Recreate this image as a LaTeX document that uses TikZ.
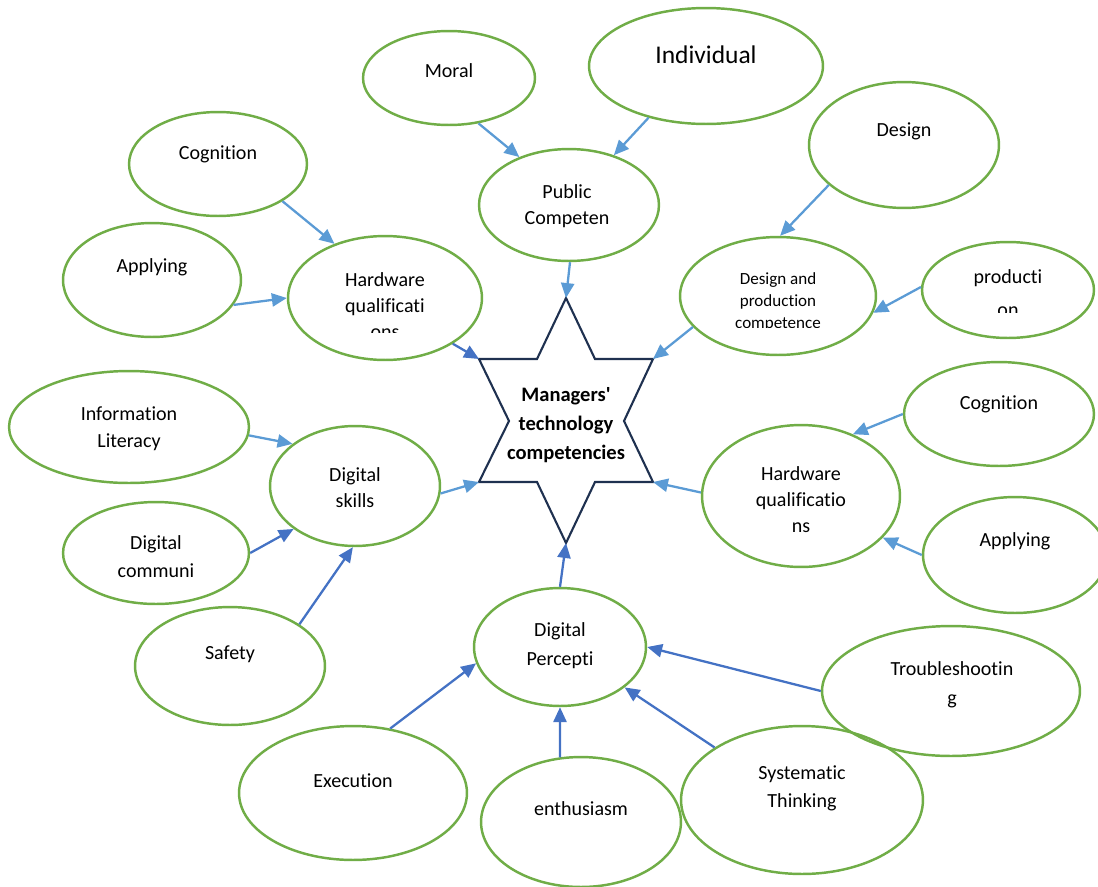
\documentclass[tikz,border=0pt]{standalone}
\usepackage{fontspec}
\setmainfont[Ligatures={NoCommon}]{Carlito}
\usetikzlibrary{shapes.geometric,arrows.meta}
\definecolor{leaf}{HTML}{70AD47}
\definecolor{skyblue}{HTML}{5B9BD5}
\definecolor{deepblue}{HTML}{4472C4}
\definecolor{navy}{HTML}{1F3150}
\tikzset{
	bub/.style={ellipse, draw=leaf, line width=1.4pt, inner sep=0pt},
	txt/.style={align=center, inner sep=0pt, font=\fontsize{11.4}{15.3}\selectfont},
	lite/.style={draw=skyblue, line width=1.3pt, -{Triangle[length=8.5pt,width=7.5pt]}},
	dark/.style={draw=deepblue, line width=1.3pt, -{Triangle[length=8.5pt,width=7.5pt]}},
}
\def\bubble(#1)(#2,#3)(#4:#5){\node[bub, minimum width={#4*0.04cm}, minimum height={#5*0.04cm}] (#1) at (#2,#3) {};}

\begin{document}
\begin{tikzpicture}[x=0.02cm, y=-0.02cm]
			%%%%% START %%%%%
			\clip (0,0) rectangle (1098,886);
			
			% star
			\coordinate (top) at (566,298);
			\coordinate (a1) at (595,359);
			\coordinate (rt) at (653,359);
			\coordinate (a2) at (624,421);
			\coordinate (rb) at (653,482);
			\coordinate (a3) at (595,482);
			\coordinate (bot) at (566,543);
			\coordinate (a4) at (537,482);
			\coordinate (lb) at (479,482);
			\coordinate (a5) at (509,421);
			\coordinate (lt) at (479,359);
			\coordinate (a6) at (537,359);
			\draw[navy, line width=1.2pt, line join=miter] (top) -- (a1) -- (rt) -- (a2) -- (rb) -- (a3) -- (bot) -- (a4) -- (lb) -- (a5) -- (lt) -- (a6) -- cycle;
			\node[txt, font={\fontsize{11.7}{16.6}\selectfont\bfseries}] (hub) at (566,425) {Managers\textquotesingle\\technology\\competencies};
			
			% bubbles
			\bubble(moral)(449,78)(86:47)
			\bubble(indiv)(706,66)(117:58)
			\bubble(design)(904,145)(95:63)
			\bubble(cogl)(218,164)(89:52)
			\bubble(public)(569,205)(90:56)
			\bubble(applyl)(152,280)(89:57)
			\bubble(hwl)(385,298)(97:62)
			\bubble(dp)(778,296)(98:59)
			\bubble(prod)(1008,290)(86:48)
			\bubble(info)(129,427)(120:56)
			\bubble(dskills)(355,486)(85:60)
			\bubble(cogr)(999,414)(95:52)
			\bubble(hwr)(801,496)(99:71)
			\bubble(applyr)(1015,555)(92:58)
			\bubble(dcomm)(156,553)(93:51)
			\bubble(safety)(230,666)(95:59)
			\bubble(dperc)(560,647)(86:59)
			\bubble(trouble)(951,691)(129:65)
			\bubble(exec)(353,793)(114:67)
			\bubble(enth)(581,822)(100:65)
			\bubble(sys)(802,800)(121:74)
			
			% texts
			\node[txt] (moral-t) at (449,71) {Moral};
			\node[txt, font=\fontsize{14.5}{17}\selectfont] (indiv-t) at (706,55) {Individual};
			\node[txt] (design-t) at (904,131) {Design};
			\node[txt] (cogl-t) at (218,154) {Cognition};
			\node[txt, font=\fontsize{11.4}{14.5}\selectfont] (public-t) at (567,206) {Public\\Competen};
			\node[txt] (applyl-t) at (152,267) {Applying};
			\begin{scope}
				\clip (280,236) rectangle (490,332);
				\node[txt, font=\fontsize{11.4}{14.8}\selectfont] (hwl-t) at (385,306) {Hardware\\qualificati\\ons};
			\end{scope}
			\begin{scope}
				\clip (680,240) rectangle (880,327);
				\node[txt, font=\fontsize{9.7}{12.5}\selectfont] (dp-t) at (778,302) {Design and\\production\\competence};
			\end{scope}
			\begin{scope}
				\clip (920,245) rectangle (1098,312);
				\node[txt, font=\fontsize{11.4}{18.5}\selectfont] (prod-t) at (1008,293) {producti\\on};
			\end{scope}
			\node[txt] (info-t) at (129,429) {Information\\Literacy};
			\node[txt, font=\fontsize{11.4}{14.8}\selectfont] (dskills-t) at (355,488) {Digital\\skills};
			\node[txt] (cogr-t) at (999,404) {Cognition};
			\node[txt, font=\fontsize{11.4}{14.8}\selectfont] (hwr-t) at (801,500) {Hardware\\qualificatio\\ns};
			\node[txt] (applyr-t) at (1015,541) {Applying};
			\node[txt, font=\fontsize{11.4}{16}\selectfont] (dcomm-t) at (156,557) {Digital\\communi};
			\node[txt] (safety-t) at (230,654) {Safety};
			\node[txt, font=\fontsize{11.4}{16.4}\selectfont] (dperc-t) at (560,646) {Digital\\Percepti};
			\node[txt, font=\fontsize{11.4}{16.4}\selectfont] (trouble-t) at (952,685) {Troubleshootin\\g};
			\node[txt] (exec-t) at (353,781) {Execution};
			\node[txt] (enth-t) at (581,809) {enthusiasm};
			\node[txt, font=\fontsize{11.4}{15.9}\selectfont] (sys-t) at (802,788) {Systematic\\Thinking};
			
			% arrows
			\draw[lite] (moral.-57) -- (public.136);
			\draw[lite] (indiv.-138) -- (public.48);
			\draw[lite] (public.-89) -- (top);
			\draw[lite] (design.-152) -- (dp.88);
			\draw[lite] (prod.178) -- (dp.-10);
			\draw[lite] (dp.200) -- (rt);
			\draw[lite] (cogl.-30) -- (hwl.133);
			\draw[lite] (applyl.-17) -- (hwl.180);
			\draw[dark] (hwl.-34) -- (lt);
			\draw[lite] (info.-4) -- (dskills.146);
			\draw[lite] (dskills.-5) -- (lb);
			\draw[dark] (dcomm.0) -- (dskills.-145);
			\draw[dark] (safety.31) -- (dskills.-92);
			\draw[lite] (cogr.180) -- (hwr.50);
			\draw[lite] (applyr.180) -- (hwr.-27);
			\draw[lite] (hwr.178) -- (rb);
			\draw[dark] (dperc.90) -- (bot);
			\draw[dark] (exec.60) -- (dperc.191);
			\draw[dark] (enth.108) -- (dperc.-90);
			\draw[dark] (sys.149) -- (dperc.-32);
			\draw[dark] (trouble.180) -- (dperc.0);
			
			%%%%% END %%%%%
\end{tikzpicture}
\end{document}
